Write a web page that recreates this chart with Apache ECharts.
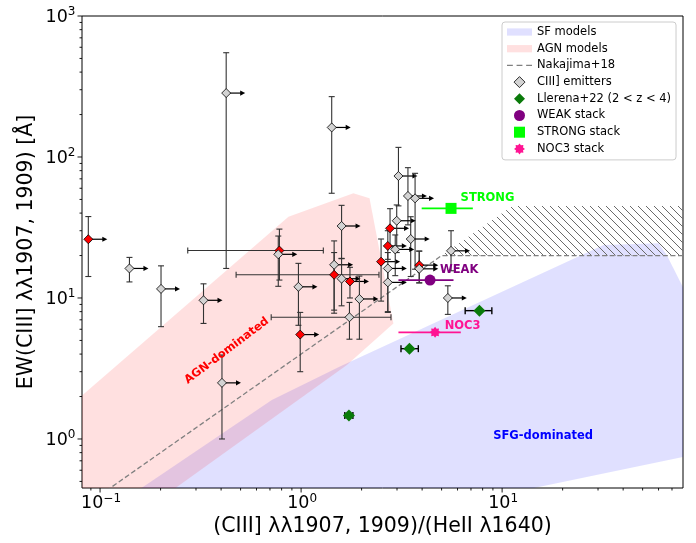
<!DOCTYPE html>
<html><head><meta charset="utf-8">
<script src="https://cdn.jsdelivr.net/npm/echarts@6/dist/echarts.min.js"></script>
<style>html,body{margin:0;padding:0;background:#fff}#c{width:696px;height:543px}</style>
</head><body><div id="c"></div>
<script>
// ---------- axis ranges ----------
const X_MIN = 0.0813, X_MAX = 79.4, Y_MIN = 0.449, Y_MAX = 1000;

// ---------- tick labels (powers of ten) ----------
const xTickExponents = [-1, 0, 1];
const yTickExponents = [0, 1, 2, 3];

// ---------- model regions (x, y) ----------
const sfModels  = [[0.1425,0.4],[0.715,1.89],[1.56,3.26],[31.9,23.8],[60,24.4],[65.9,20.2],[85,9.8],[85,0.76],[9.74,0.4]];
const agnModels = [[0.075,1.84],[0.865,37.7],[1.82,55.3],[2.19,50.9],[2.88,6.6],[1.69,3.35],[0.212,0.4],[0.075,0.4]];
const hatchRegion = [[5,20],[11.25,45],[100,45],[100,20]];
const nakajima18 = [[0.1,0.4],[5,20],[100,20]];

// ---------- CIII] emitters: [x, y, yLo, yHi, xLo, xHi, lowerLimitInX] ----------
const emitterGrey = [
  [0.424, 284, 16.2, 549, 0, 0, 1],
  [1.42, 162, 55.3, 268, 0, 0, 1],
  [0.140, 16.2, 13.0, 19.4, 0, 0, 1],
  [0.201, 11.6, 6.26, 16.9, 0, 0, 1],
  [0.327, 9.63, 6.6, 12.6, 0, 0, 1],
  [0.77, 20.4, 12.1, 27.5, 0, 0, 1],
  [0.97, 12.0, 6.4, 17.6, 0, 0, 1],
  [1.59, 32.4, 19.1, 45.4, 0, 0, 1],
  [1.46, 17.2, 7.8, 25.4, 0, 0, 1],
  [1.59, 13.7, 8.8, 19.0, 0, 0, 1],
  [1.74, 7.3, 5.1, 9.3, 0.71, 2.80, 0],
  [1.95, 9.84, 5.1, 14.3, 0, 0, 1],
  [3.05, 73.3, 45, 117, 0, 0, 1],
  [3.40, 52.9, 33, 84, 0, 0, 1],
  [3.69, 50.9, 16, 76.6, 0, 0, 1],
  [2.99, 35.3, 21, 45.7, 0, 0, 1],
  [3.51, 26.2, 14.2, 37.7, 0, 0, 1],
  [2.94, 22.1, 14.4, 28, 0, 0, 1],
  [5.57, 21.6, 15.6, 30, 0, 0, 1],
  [2.70, 16.2, 8.0, 21, 0, 0, 1],
  [3.87, 16.1, 12.8, 21.5, 0, 0, 1],
  [2.70, 12.9, 7.9, 16, 0, 0, 1],
  [5.37, 10.0, 7.65, 12.2, 0, 0, 1],
  [0.404, 2.5, 1.0, 3.94, 0, 0, 1]
];
const emitterRed = [
  [0.0874, 26.1, 14.2, 37.8, 0, 0, 1],
  [0.78, 21.7, 13.4, 30.8, 0.273, 1.29, 0],
  [0.99, 5.5, 3.0, 7.9, 0, 0, 1],
  [1.46, 14.6, 8.2, 21, 0.475, 2.44, 0],
  [1.75, 13.1, 10.0, 16.5, 0, 0, 1],
  [2.50, 18.1, 9.5, 26.2, 0, 0, 1],
  [2.70, 23.4, 18.8, 30, 0, 0, 1],
  [2.77, 31.2, 23.1, 43, 0, 0, 1],
  [3.87, 17.1, 12.8, 21.5, 0, 0, 1]
];

// ---------- Llerena+22 and stacks: [x, y, xLo, xHi] ----------
const llerena22 = [[7.71, 8.13, 6.55, 8.89],[3.46, 4.37, 3.14, 3.83],[1.73, 1.47, 1.65, 1.81]];
const weakStack   = [[4.38, 13.4, 3.05, 5.73]];
const strongStack = [[5.57, 43.2, 3.98, 7.15]];
const noc3Stack   = [[4.64, 5.71, 3.05, 6.23]];

// ====================================================================
const FONT = 'DejaVu Sans';
const mctx = document.createElement('canvas').getContext('2d');
function textW(s, size) { mctx.font = size + 'px "' + FONT + '"'; return mctx.measureText(s).width; }

function starPath(n, r1, r2) {
  let d = '';
  for (let i = 0; i < 2 * n; i++) {
    const r = i % 2 ? r2 : r1;
    const a = Math.PI * i / n - Math.PI / 2;
    d += (i ? 'L' : 'M') + (10 + r * Math.cos(a)).toFixed(2) + ',' + (10 + r * Math.sin(a)).toFixed(2);
  }
  return 'path://' + d + 'Z';
}
const STAR = starPath(8, 10, 7);
const DIAMOND = 'path://M5,0L10,5L5,10L0,5Z';
const DASHES = 'path://M0,0h5.5v1.3h-5.5zM9,0h5.5v1.3h-5.5zM18,0h5.5v1.3h-5.5z';

// hatch pattern
const hatch = document.createElement('canvas');
hatch.width = 8; hatch.height = 8;
(function () {
  const c = hatch.getContext('2d');
  c.strokeStyle = '#6a6a6a'; c.lineWidth = 1;
  for (let k = -1; k <= 1; k++) { c.beginPath(); c.moveTo(k * 8, 0); c.lineTo(k * 8 + 8, 8); c.stroke(); }
})();

function polyRender(arr, fill) {
  return function (params, api) {
    if (params.dataIndex !== 0) return null;
    return { type: 'polygon', shape: { points: arr.map(p => api.coord(p)) }, style: { fill: fill } };
  };
}

function L(x1, y1, x2, y2, stroke, w) {
  return { type: 'line', shape: { x1, y1, x2, y2 }, style: { stroke, lineWidth: w } };
}

function errRender(color, w, cap) {
  return function (params, api) {
    const x = api.value(0), y = api.value(1);
    const p = api.coord([x, y]);
    const ch = [];
    const ylo = api.value(2), yhi = api.value(3);
    if (ylo > 0 && yhi > 0) {
      const a = api.coord([x, ylo]), b = api.coord([x, yhi]);
      ch.push(L(p[0], a[1], p[0], b[1], color, w));
      ch.push(L(p[0] - cap, a[1], p[0] + cap, a[1], color, w));
      ch.push(L(p[0] - cap, b[1], p[0] + cap, b[1], color, w));
    }
    const xlo = api.value(4), xhi = api.value(5);
    if (xlo > 0 && xhi > 0) {
      const a = api.coord([xlo, y]), b = api.coord([xhi, y]);
      ch.push(L(a[0], p[1], b[0], p[1], color, w));
      ch.push(L(a[0], p[1] - cap, a[0], p[1] + cap, color, w));
      ch.push(L(b[0], p[1] - cap, b[0], p[1] + cap, color, w));
    }
    if (api.value(6) === 1) {
      const tip = p[0] + 19;
      ch.push(L(p[0], p[1], tip - 3, p[1], '#000', 1.2));
      ch.push({ type: 'polygon', shape: { points: [[tip, p[1]], [tip - 5, p[1] - 2.6], [tip - 5, p[1] + 2.6]] }, style: { fill: '#000' } });
    }
    return { type: 'group', children: ch };
  };
}

function hErrRender(color, w, cap) {
  return function (params, api) {
    const y = api.value(1);
    const a = api.coord([api.value(2), y]), b = api.coord([api.value(3), y]);
    const ch = [L(a[0], a[1], b[0], b[1], color, w)];
    if (cap > 0) {
      ch.push(L(a[0], a[1] - cap, a[0], a[1] + cap, color, w));
      ch.push(L(b[0], b[1] - cap, b[0], b[1] + cap, color, w));
    }
    return { type: 'group', children: ch };
  };
}

// tick items: [x, y, kind] kind 0 = x major, 1 = x minor, 2 = y major, 3 = y minor
const tickItems = [];
xTickExponents.forEach(e => tickItems.push([Math.pow(10, e), Y_MIN, 0]));
yTickExponents.forEach(e => tickItems.push([X_MIN, Math.pow(10, e), 2]));
for (let n = -2; n <= 2; n++) for (let k = 2; k <= 9; k++) {
  const v = k * Math.pow(10, n);
  if (v > X_MIN && v < X_MAX) tickItems.push([v, Y_MIN, 1]);
  if (v > Y_MIN && v < Y_MAX) tickItems.push([X_MIN, v, 3]);
}
function expStr(v) { const e = Math.round(Math.log10(v)); return e < 0 ? '\u2212' + (-e) : '' + e; }

function tickRender(params, api) {
  const v0 = api.value(0), v1 = api.value(1), kind = api.value(2);
  const p = api.coord([v0, v1]);
  const ch = [];
  const base = { fontFamily: FONT, fill: '#000', verticalAlign: 'middle' };
  if (kind === 0 || kind === 1) {
    ch.push(L(p[0], p[1], p[0], p[1] + (kind === 0 ? 4.5 : 2.5), '#000', 0.9));
    if (kind === 0) {
      const es = expStr(v0);
      const wb = textW('10', 17.5), we = textW(es, 12);
      const x0 = p[0] + 1 - (wb + we) / 2;
      ch.push({ type: 'text', x: x0, y: p[1] + 15, style: Object.assign({ text: '10', fontSize: 17.5, align: 'left' }, base) });
      ch.push({ type: 'text', x: x0 + wb, y: p[1] + 11, style: Object.assign({ text: es, fontSize: 12, align: 'left' }, base) });
    }
  } else {
    ch.push(L(p[0], p[1], p[0] - (kind === 2 ? 4.5 : 2.5), p[1], '#000', 0.9));
    if (kind === 2) {
      const es = expStr(v1);
      const we = textW(es, 12);
      const xr = p[0] - 6.5;
      ch.push({ type: 'text', x: xr, y: p[1] - 4, style: Object.assign({ text: es, fontSize: 12, align: 'right' }, base) });
      ch.push({ type: 'text', x: xr - we, y: p[1] + 1.5, style: Object.assign({ text: '10', fontSize: 17.5, align: 'right' }, base) });
    }
  }
  return { type: 'group', children: ch };
}

const SF_COL = 'rgba(0,0,255,0.12)', AGN_COL = 'rgba(255,0,0,0.12)';
const annLabel = (txt, color, extra) => Object.assign({
  show: true, formatter: txt, color: color, fontFamily: FONT, fontWeight: 'bold', fontSize: 11.5,
  textBorderWidth: 0, textShadowBlur: 0, opacity: 1
}, extra);

const chart = echarts.init(document.getElementById('c'), null, { renderer: 'canvas' });
chart.setOption({
  animation: false,
  backgroundColor: '#fff',
  grid: { left: 82, right: 13, top: 16, bottom: 55, show: true, borderColor: '#000', borderWidth: 1, backgroundColor: 'transparent' },
  xAxis: {
    type: 'log', logBase: 10, min: X_MIN, max: X_MAX,
    axisLine: { show: false }, axisTick: { show: false }, axisLabel: { show: false }, splitLine: { show: false },
    name: '(CIII] \u03BB\u03BB1907, 1909)/(HeII \u03BB1640)', nameLocation: 'middle', nameGap: 28.5,
    nameTextStyle: { fontFamily: FONT, fontSize: 20.5, color: '#000' }
  },
  yAxis: {
    type: 'log', logBase: 10, min: Y_MIN, max: Y_MAX,
    axisLine: { show: false }, axisTick: { show: false }, axisLabel: { show: false }, splitLine: { show: false },
    name: 'EW(CIII] \u03BB\u03BB1907, 1909) [\u00C5]', nameLocation: 'middle', nameGap: 45,
    nameTextStyle: { fontFamily: FONT, fontSize: 20.5, color: '#000' }
  },
  legend: {
    left: 502, top: 22, orient: 'vertical', selectedMode: false,
    backgroundColor: '#fff', borderColor: '#cccccc', borderWidth: 1, borderRadius: 3,
    padding: [3, 5, 4, 5], itemGap: 2.7, itemWidth: 25, itemHeight: 11,
    textStyle: { fontFamily: FONT, fontSize: 11.5, color: '#000', lineHeight: 14 },
    data: [
      { name: 'SF models', icon: 'path://M0,0h24v7h-24z' },
      { name: 'AGN models', icon: 'path://M0,0h24v7h-24z' },
      { name: 'Nakajima+18', icon: DASHES, itemStyle: { color: '#808080', borderWidth: 0 } },
      { name: 'CIII] emitters', icon: DIAMOND, itemStyle: { borderWidth: 0.8 } },
      { name: 'Llerena+22 (2 < z < 4)', icon: DIAMOND, itemStyle: { borderWidth: 0 } },
      { name: 'WEAK stack', icon: 'circle' },
      { name: 'STRONG stack', icon: 'path://M0,0h10v10h-10z' },
      { name: 'NOC3 stack', icon: STAR }
    ]
  },
  series: [
    { type: 'custom', name: 'SF models', data: sfModels, clip: true, z: 1, silent: true,
      itemStyle: { color: SF_COL }, renderItem: polyRender(sfModels, SF_COL), encode: { x: 0, y: 1 } },
    { type: 'custom', name: 'AGN models', data: agnModels, clip: true, z: 1, silent: true,
      itemStyle: { color: AGN_COL }, renderItem: polyRender(agnModels, AGN_COL), encode: { x: 0, y: 1 } },
    { type: 'custom', name: 'hatch', data: hatchRegion, clip: true, z: 1, silent: true,
      renderItem: polyRender(hatchRegion, { image: hatch, repeat: 'repeat' }), encode: { x: 0, y: 1 } },
    { type: 'line', name: 'Nakajima+18', data: nakajima18, symbol: 'none', clip: true, z: 2, silent: true,
      itemStyle: { color: '#808080' },
      lineStyle: { color: '#808080', width: 1.3, type: [5, 2.6] } },
    { type: 'custom', name: 'err_red', data: emitterRed, clip: false, z: 3, silent: true,
      renderItem: errRender('#333', 1.1, 3), encode: { x: 0, y: 1 } },
    { type: 'custom', name: 'err_grey', data: emitterGrey, clip: false, z: 3, silent: true,
      renderItem: errRender('#333', 1.1, 3), encode: { x: 0, y: 1 } },
    { type: 'scatter', name: 'CIII] emitters red', data: emitterRed.map(r => [r[0], r[1]]), z: 4, silent: true,
      symbol: 'diamond', symbolSize: 9, itemStyle: { color: '#ff0000', borderColor: '#000', borderWidth: 0.8, opacity: 1 } },
    { type: 'scatter', name: 'CIII] emitters', data: emitterGrey.map(r => [r[0], r[1]]), z: 4, silent: true,
      symbol: 'diamond', symbolSize: 9, itemStyle: { color: '#d3d3d3', borderColor: '#000', borderWidth: 0.8, opacity: 1 } },
    { type: 'custom', name: 'err_llerena', data: llerena22, clip: false, z: 3, silent: true,
      renderItem: hErrRender('#000', 1.4, 3.5), encode: { x: 0, y: 1 } },
    { type: 'scatter', name: 'Llerena+22 (2 < z < 4)', data: llerena22.map(r => [r[0], r[1]]), z: 4, silent: true,
      symbol: 'diamond', symbolSize: 12, itemStyle: { color: '#0a7a0a', opacity: 1 } },
    { type: 'custom', name: 'err_weak', data: weakStack, clip: false, z: 3, silent: true,
      renderItem: hErrRender('#800080', 1.8, 0), encode: { x: 0, y: 1 } },
    { type: 'scatter', name: 'WEAK stack', data: weakStack.map(r => [r[0], r[1]]), z: 4, silent: true,
      symbol: 'circle', symbolSize: 11, itemStyle: { color: '#800080', opacity: 1 } },
    { type: 'custom', name: 'err_strong', data: strongStack, clip: false, z: 3, silent: true,
      renderItem: hErrRender('#00ff00', 1.8, 0), encode: { x: 0, y: 1 } },
    { type: 'scatter', name: 'STRONG stack', data: strongStack.map(r => [r[0], r[1]]), z: 4, silent: true,
      symbol: 'rect', symbolSize: 11, itemStyle: { color: '#00ff00', opacity: 1 } },
    { type: 'custom', name: 'err_noc3', data: noc3Stack, clip: false, z: 3, silent: true,
      renderItem: hErrRender('#ff1493', 1.8, 0), encode: { x: 0, y: 1 } },
    { type: 'scatter', name: 'NOC3 stack', data: noc3Stack.map(r => [r[0], r[1]]), z: 4, silent: true,
      symbol: STAR, symbolSize: 11, itemStyle: { color: '#ff1493', opacity: 1 } },
    { type: 'scatter', name: 'annotations', z: 5, silent: true, symbolSize: 1,
      itemStyle: { color: 'rgba(0,0,0,0)', opacity: 1 },
      data: [
        { value: [6.18, 51.2], label: annLabel('STRONG', '#00ff00', { position: 'right', distance: 0 }) },
        { value: [4.88, 15.8], label: annLabel('WEAK', '#800080', { position: 'right', distance: 0 }) },
        { value: [5.15, 6.36], label: annLabel('NOC3', '#ff1493', { position: 'right', distance: 0 }) },
        { value: [0.427, 4.22], label: annLabel('AGN-dominated', '#ff0000', { position: 'inside', rotate: 37 }) },
        { value: [16.0, 1.05], label: annLabel('SFG-dominated', '#0000ff', { position: 'inside' }) }
      ] },
    { type: 'custom', name: 'ticks', data: tickItems, clip: false, z: 6, silent: true,
      renderItem: tickRender, encode: { x: 0, y: 1 } }
  ]
});
</script></body></html>
